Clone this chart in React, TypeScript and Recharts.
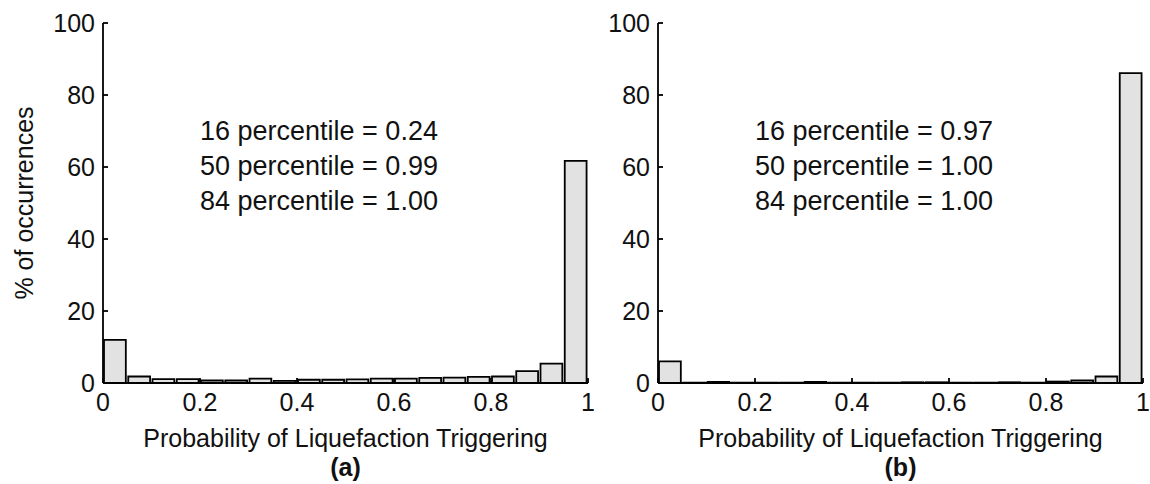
import React from "react";
import { BarChart, Bar, XAxis, YAxis, Customized } from "recharts";

// histogram bins: centres of the twenty 0.05-wide bins
const BIN_MID = [
  0.025, 0.075, 0.125, 0.175, 0.225, 0.275, 0.325, 0.375, 0.425, 0.475,
  0.525, 0.575, 0.625, 0.675, 0.725, 0.775, 0.825, 0.875, 0.925, 0.975,
];

// % of occurrences, panel (a)
const PCT_A = [
  12.0, 1.8, 1.1, 1.1, 0.7, 0.7, 1.2, 0.6, 0.9, 0.9,
  1.0, 1.2, 1.2, 1.4, 1.5, 1.7, 1.8, 3.3, 5.4, 61.7,
];

// % of occurrences, panel (b)
const PCT_B = [
  6.0, 0.1, 0.3, 0.1, 0.1, 0.1, 0.3, 0.1, 0.1, 0.1,
  0.2, 0.2, 0.1, 0.1, 0.2, 0.1, 0.4, 0.7, 1.8, 86.1,
];

const X_TICKS = [0, 0.2, 0.4, 0.6, 0.8, 1];
const Y_TICKS = [0, 20, 40, 60, 80, 100];

const NOTES_A = ["16 percentile = 0.24", "50 percentile = 0.99", "84 percentile = 1.00"];
const NOTES_B = ["16 percentile = 0.97", "50 percentile = 1.00", "84 percentile = 1.00"];

const FONT = "'Liberation Sans', Arial, sans-serif";
const PLOT_W = 485;
const PLOT_H = 360;
const LEFT = 103;
const TOP = 23;
const LINE_W = 1.8;

const fmtX = (v: number) => (v === 0 ? "0" : v === 1 ? "1" : String(v));

interface PanelProps {
  values: number[];
  notes: string[];
  tag: string;
  showYLabel: boolean;
}

function Panel({ values, notes, tag, showYLabel }: PanelProps) {
  const data = BIN_MID.map((m, i) => ({ mid: m, pct: values[i] }));
  const width = LEFT + PLOT_W + 8;
  const height = 484;

  const Notes = () => (
    <g>
      {notes.map((t, i) => (
        <text
          key={t + i}
          x={LEFT + 97}
          y={140 + i * 35}
          fontSize={27}
          fontFamily={FONT}
          fill="#111"
        >
          {t}
        </text>
      ))}
    </g>
  );

  return (
    <BarChart
      width={width}
      height={height}
      data={data}
      margin={{ top: TOP, right: 8, bottom: 0, left: 0 }}
      barCategoryGap={0}
    >
      <XAxis
        dataKey="mid"
        type="number"
        domain={[0, 1]}
        ticks={X_TICKS}
        tickFormatter={fmtX}
        allowDataOverflow
        height={height - TOP - PLOT_H}
        tickSize={-5}
        tickMargin={15}
        stroke="#000"
        strokeWidth={LINE_W}
        tick={{ fontSize: 25, fill: "#111", fontFamily: FONT }}
        label={{
          content: ({ viewBox }: any) => (
            <g>
              <text
                x={viewBox.x + viewBox.width / 2}
                y={viewBox.y + 64}
                textAnchor="middle"
                fontSize={25}
                fontFamily={FONT}
                fill="#111"
              >
                Probability of Liquefaction Triggering
              </text>
              <text
                x={viewBox.x + viewBox.width / 2}
                y={viewBox.y + 93}
                textAnchor="middle"
                fontSize={25}
                fontWeight="bold"
                fontFamily={FONT}
                fill="#111"
              >
                {tag}
              </text>
            </g>
          ),
        }}
      />
      <XAxis
        xAxisId="top"
        dataKey="mid"
        type="number"
        orientation="top"
        domain={[0, 1]}
        ticks={X_TICKS}
        allowDataOverflow
        height={0}
        tickSize={-5}
        tick={false}
        stroke="#000"
        strokeWidth={LINE_W}
      />
      <YAxis
        type="number"
        domain={[0, 100]}
        ticks={Y_TICKS}
        width={LEFT}
        tickSize={-5}
        tickMargin={13}
        stroke="#000"
        strokeWidth={LINE_W}
        tick={{ fontSize: 25, fill: "#111", fontFamily: FONT }}
        label={
          showYLabel
            ? {
                content: ({ viewBox }: any) => (
                  <text
                    x={24}
                    y={viewBox.y + viewBox.height / 2}
                    transform={`rotate(-90 24 ${viewBox.y + viewBox.height / 2})`}
                    textAnchor="middle"
                    dominantBaseline="central"
                    fontSize={25}
                    fontFamily={FONT}
                    fill="#111"
                  >
                    % of occurrences
                  </text>
                ),
              }
            : undefined
        }
      />
      <YAxis
        yAxisId="right"
        orientation="right"
        type="number"
        domain={[0, 100]}
        ticks={Y_TICKS}
        width={0}
        tickSize={-5}
        tick={false}
        stroke="#000"
        strokeWidth={LINE_W}
      />
      <Bar
        dataKey="pct"
        fill="#e2e2e2"
        stroke="#000"
        strokeWidth={LINE_W}
        barSize={PLOT_W / 20}
        isAnimationActive={false}
      />
      <Customized component={Notes} />
    </BarChart>
  );
}

export default function App() {
  return (
    <div
      style={{
        position: "absolute",
        left: 0,
        top: 0,
        width: 1150,
        height: 484,
        background: "#fff",
      }}
    >
      <div style={{ position: "absolute", left: 0, top: 0 }}>
        <Panel values={PCT_A} notes={NOTES_A} tag="(a)" showYLabel />
      </div>
      <div style={{ position: "absolute", left: 555, top: 0 }}>
        <Panel values={PCT_B} notes={NOTES_B} tag="(b)" showYLabel={false} />
      </div>
    </div>
  );
}
